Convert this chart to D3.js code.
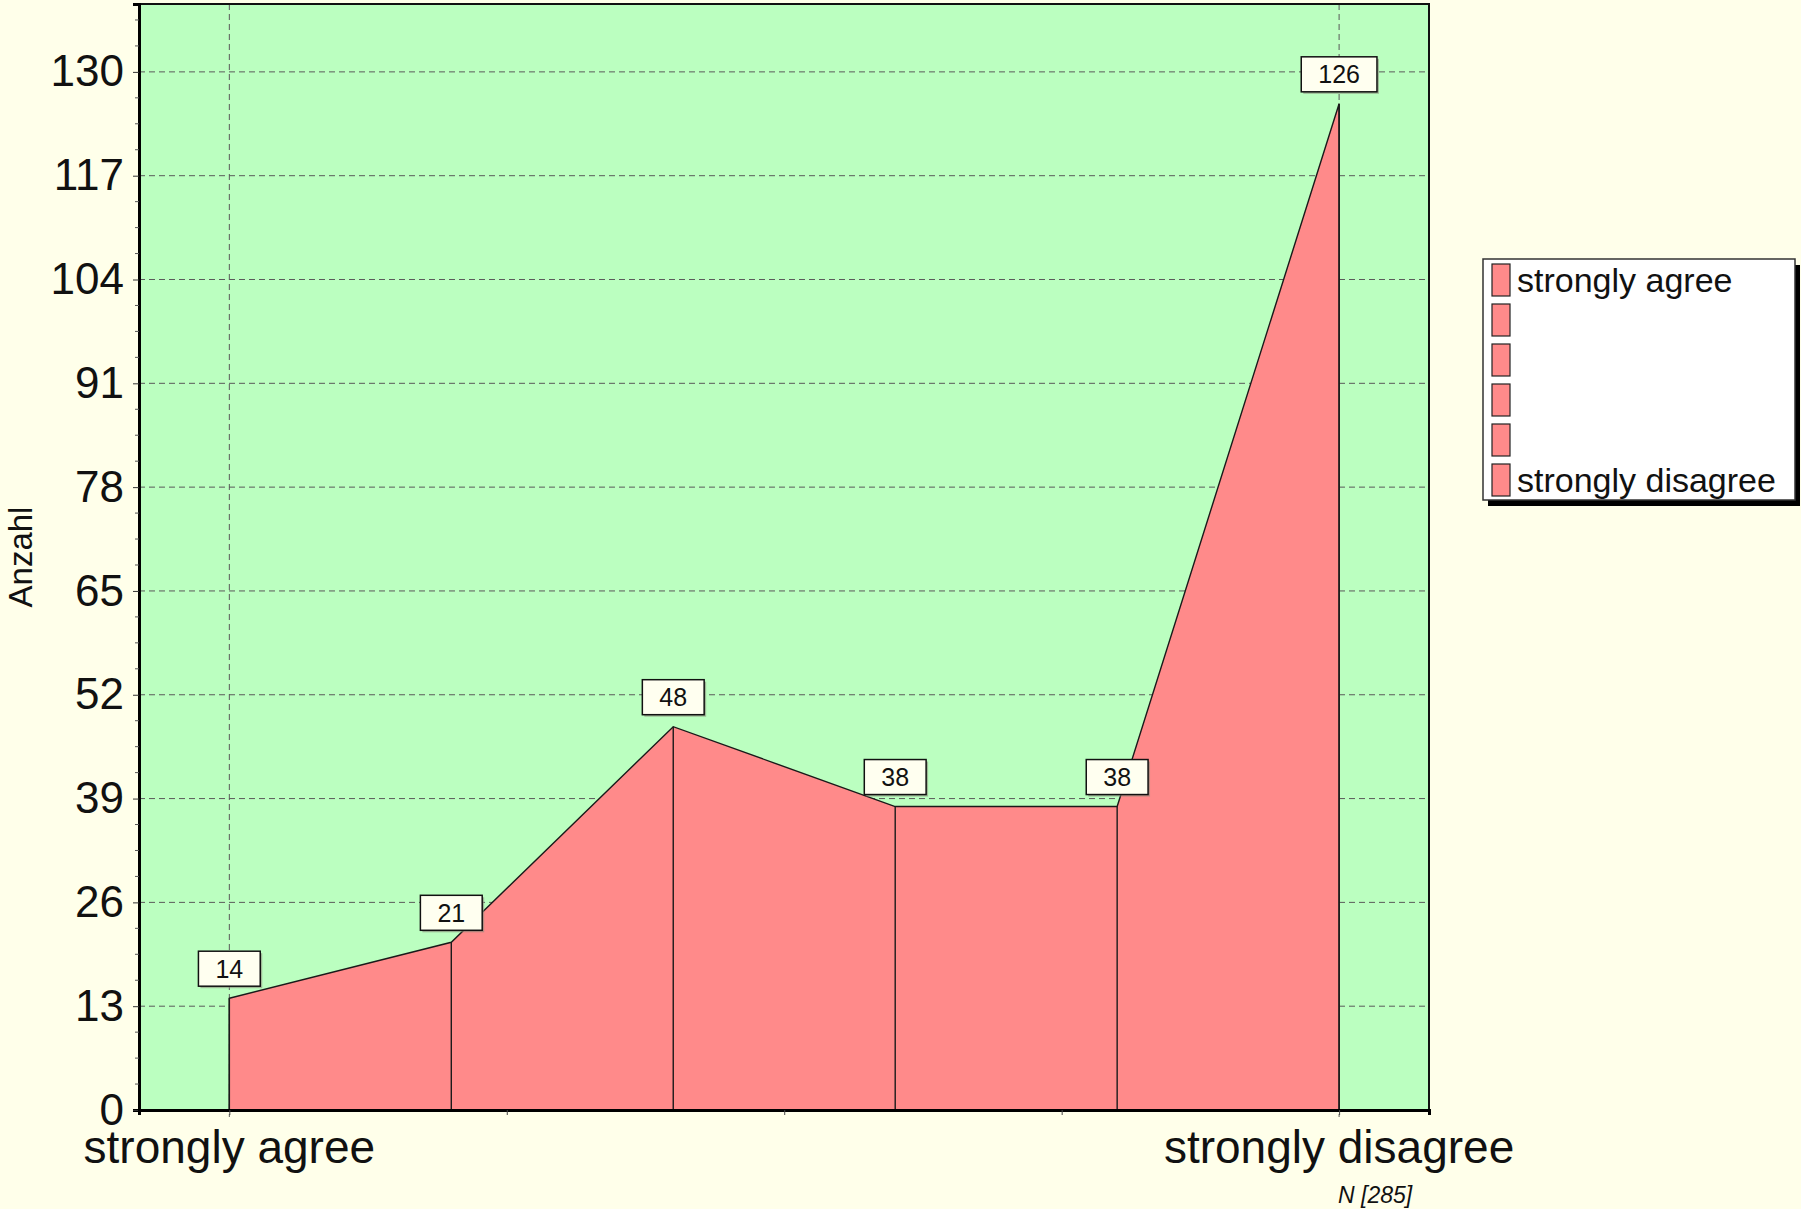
<!DOCTYPE html>
<html>
<head>
<meta charset="utf-8">
<script src="https://cdn.jsdelivr.net/npm/d3@7"></script>
<style>
  html, body { margin: 0; padding: 0; background: #FFFFEA; }
  svg { display: block; }
  text { font-family: Arial, "Liberation Sans", sans-serif; fill: #111; }
</style>
</head>
<body>
<svg id="chart" width="1801" height="1209"></svg>
<script>
// ---- data ----
const categories = ["strongly agree", "", "", "", "", "strongly disagree"];
const values = [14, 21, 48, 38, 38, 126];
const yTicks = [0, 13, 26, 39, 52, 65, 78, 91, 104, 117, 130];
const xAxisLabels = ["strongly agree", "strongly disagree"];
const legendLabels = ["strongly agree", "", "", "", "", "strongly disagree"];
const yTitle = "Anzahl";
const nNote = "N [285]";

// ---- layout ----
const W = 1801, H = 1209;
const plot = { left: 139, right: 1429, top: 4, bottom: 1110 };
const colors = { page: "#FFFFEA", plotBg: "#BBFFC0", area: "#FF8A8A", grid: "#5a5a5a" };

const svg = d3.select("#chart");

const x = d3.scaleLinear().domain([-0.407, 5.405]).range([plot.left, plot.right]);
const y = d3.scaleLinear().domain([0, 138.5]).range([plot.bottom, plot.top]);

// plot background
svg.append("rect")
  .attr("x", plot.left).attr("y", plot.top)
  .attr("width", plot.right - plot.left).attr("height", plot.bottom - plot.top)
  .attr("fill", colors.plotBg);

// horizontal grid
const gridG = svg.append("g");
gridG.selectAll("line.h").data(yTicks.filter(d => d > 0)).join("line")
  .attr("x1", plot.left).attr("x2", plot.right)
  .attr("y1", d => y(d)).attr("y2", d => y(d))
  .attr("stroke", colors.grid).attr("stroke-width", 1).attr("stroke-dasharray", "6,4");
// vertical grid at first & last category
const vGrid = [0, categories.length - 1];
gridG.selectAll("line.v").data(vGrid).join("line")
  .attr("x1", d => x(d)).attr("x2", d => x(d))
  .attr("y1", plot.top).attr("y2", plot.bottom + 7)
  .attr("stroke", colors.grid).attr("stroke-width", 1).attr("stroke-dasharray", "6,4");

// area
const idx = d3.range(values.length);
const area = d3.area().x(i => x(i)).y0(y(0)).y1(i => y(values[i]));
svg.append("path").datum(idx)
  .attr("d", area)
  .attr("fill", colors.area)
  .attr("stroke", "#1a1a1a").attr("stroke-width", 1.4).attr("stroke-linejoin", "miter");

// separators
svg.append("g").selectAll("line").data(idx).join("line")
  .attr("x1", i => x(i)).attr("x2", i => x(i))
  .attr("y1", i => y(values[i])).attr("y2", y(0))
  .attr("stroke", "#1a1a1a").attr("stroke-width", 1.4);

// border (top/right)
svg.append("rect")
  .attr("x", plot.left).attr("y", plot.top)
  .attr("width", plot.right - plot.left).attr("height", plot.bottom - plot.top)
  .attr("fill", "none").attr("stroke", "#111").attr("stroke-width", 2);

// y axis
const yAxis = d3.axisLeft(y).tickValues(yTicks).tickSize(6).tickPadding(9);
const yg = svg.append("g").attr("transform", `translate(${plot.left},0)`).call(yAxis);
yg.select(".domain").attr("stroke", "#000").attr("stroke-width", 3);
yg.selectAll(".tick line").attr("stroke", "#333").attr("stroke-width", 1);
yg.selectAll(".tick text")
  .style("font-family", 'Arial, "Liberation Sans", sans-serif')
  .attr("font-size", 44).attr("fill", "#111");

// y minor ticks
const yMinor = d3.range(0, 138.5, 3.25).filter(v => !yTicks.some(t => Math.abs(t - v) < 0.01));
svg.append("g").selectAll("line").data(yMinor).join("line")
  .attr("x1", plot.left - 4).attr("x2", plot.left)
  .attr("y1", d => y(d)).attr("y2", d => y(d))
  .attr("stroke", "#555").attr("stroke-width", 1);

// x axis
const xg = svg.append("g").attr("transform", `translate(0,${plot.bottom})`)
  .call(d3.axisBottom(x).tickValues([0, 1.25, 2.5, 3.75, 5]).tickSize(5).tickFormat(""));
xg.select(".domain").attr("stroke", "#000").attr("stroke-width", 3);
xg.selectAll(".tick line").attr("stroke", "#444").attr("stroke-width", 1);

// x labels
const xLabelPos = [0, categories.length - 1];
svg.append("g").selectAll("text").data(xAxisLabels).join("text")
  .attr("x", (d, i) => x(xLabelPos[i]))
  .attr("y", 1163)
  .attr("text-anchor", "middle")
  .attr("font-size", 46)
  .text(d => d);

// N note
svg.append("text")
  .attr("x", x(categories.length - 1) - 1).attr("y", 1203)
  .attr("font-size", 23).attr("font-style", "italic").attr("fill", "#222")
  .text(nNote);

// y title
svg.append("text")
  .attr("transform", `translate(32,557) rotate(-90)`)
  .attr("text-anchor", "middle")
  .attr("font-size", 33)
  .text(yTitle);

// data labels
const lblG = svg.append("g");
idx.forEach(i => {
  const cx = x(i), py = y(values[i]);
  const g = lblG.append("g");
  const t = g.append("text")
    .attr("x", cx).attr("y", py - 29.5)
    .attr("text-anchor", "middle").attr("dominant-baseline", "central")
    .attr("font-size", 25).text(values[i]);
  const tw = t.node().getComputedTextLength();
  const bw = tw + 34, bh = 35;
  g.insert("rect", "text")
    .attr("x", cx - bw / 2 + 2).attr("y", py - 12 - bh + 2)
    .attr("width", bw).attr("height", bh).attr("fill", "#8a8a7a").attr("opacity", 0.6);
  g.insert("rect", "text")
    .attr("x", cx - bw / 2).attr("y", py - 12 - bh)
    .attr("width", bw).attr("height", bh)
    .attr("fill", "#FFFFF0").attr("stroke", "#111").attr("stroke-width", 1.5);
});

// legend
const lg = { x: 1483, y: 259, w: 312, h: 241 };
svg.append("rect").attr("x", lg.x + 5).attr("y", lg.y + 6).attr("width", lg.w).attr("height", lg.h).attr("fill", "#000");
svg.append("rect").attr("x", lg.x).attr("y", lg.y).attr("width", lg.w).attr("height", lg.h)
  .attr("fill", "#fff").attr("stroke", "#333").attr("stroke-width", 1.5);
const rows = svg.append("g").selectAll("g").data(legendLabels).join("g")
  .attr("transform", (d, i) => `translate(${lg.x + 9},${lg.y + 5 + i * 40})`);
rows.append("rect").attr("width", 18).attr("height", 32)
  .attr("fill", colors.area).attr("stroke", "#222").attr("stroke-width", 1.2);
rows.append("text").attr("x", 25).attr("y", 28).attr("font-size", 34).text(d => d);
</script>
</body>
</html>
